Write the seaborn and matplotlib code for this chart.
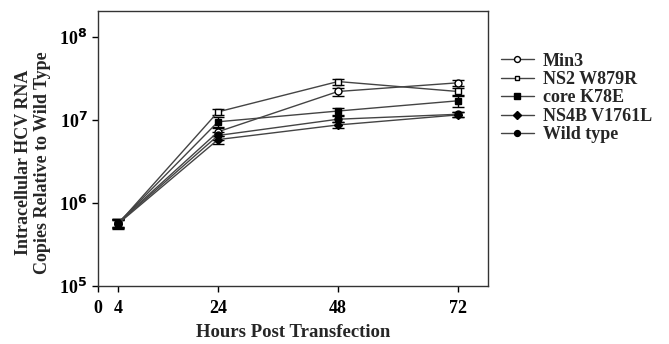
import matplotlib
matplotlib.use("Agg")
import matplotlib.pyplot as plt
import seaborn as sns
import pandas as pd
import numpy as np

hours = [4, 24, 48, 72]
series = ["Min3", "NS2 W879R", "core K78E", "NS4B V1761L", "Wild type"]
min3 = [5.8e5, 7.2e6, 2.2e7, 2.8e7]
ns2 = [5.6e5, 1.25e7, 2.9e7, 2.2e7]
core = [5.7e5, 9.5e6, 1.28e7, 1.7e7]
ns4b = [5.6e5, 5.8e6, 8.7e6, 1.15e7]
wild = [5.7e5, 6.5e6, 1.02e7, 1.17e7]
min3_err = [7e4, 8e5, 2.5e6, 2.5e6]
ns2_err = [6e4, 1.0e6, 2.5e6, 2.0e6]
core_err = [6e4, 1.2e6, 1.2e6, 2.5e6]
ns4b_err = [8e4, 6e5, 8e5, 8e5]
wild_err = [7e4, 7e5, 8e5, 8e5]

vals = [min3, ns2, core, ns4b, wild]
errs = [min3_err, ns2_err, core_err, ns4b_err, wild_err]
markers = {"Min3": "o", "NS2 W879R": "s", "core K78E": "s", "NS4B V1761L": "D", "Wild type": "o"}
faces = {"Min3": "white", "NS2 W879R": "white", "core K78E": "black", "NS4B V1761L": "black", "Wild type": "black"}
msize = {"Min3": 5, "NS2 W879R": 4.2, "core K78E": 4.5, "NS4B V1761L": 4.5, "Wild type": 5}

df = pd.DataFrame({
    "hours": np.tile(hours, len(series)),
    "value": np.concatenate(vals),
    "err": np.concatenate(errs),
    "series": np.repeat(series, len(hours)),
})

sns.set_style("ticks")
plt.rcParams["font.family"] = ["Liberation Serif", "DejaVu Serif"]
plt.rcParams["font.weight"] = "bold"

fig = plt.figure(figsize=(6.69, 3.44), dpi=100)
ax = fig.add_axes([0.1465, 0.1686, 0.5829, 0.7994])

for s in series:
    d = df[df["series"] == s]
    ax.errorbar(d["hours"], d["value"], yerr=d["err"], fmt="none", ecolor="black",
                elinewidth=1, capsize=4, capthick=1, zorder=2)
    sns.lineplot(data=d, x="hours", y="value", ax=ax, color="#444444", lw=1.0,
                 marker=markers[s], markersize=msize[s], markerfacecolor=faces[s],
                 markeredgecolor="black", markeredgewidth=1, label=s, zorder=3)

ax.set_yscale("log")
ax.set_ylim(1e5, 2.05e8)
ax.set_xlim(0, 78)
ax.set_xticks([0, 4, 24, 48, 72])
ax.set_xticklabels(["0", "4", "24", "48", "72"])
ax.set_yticks([1e5, 1e6, 1e7, 1e8])
ax.set_yticklabels([r"10$^{5}$", r"10$^{6}$", r"10$^{7}$", r"10$^{8}$"])
ax.yaxis.set_minor_locator(matplotlib.ticker.NullLocator())
ax.tick_params(axis="both", labelsize=13, direction="out", length=4, width=1, colors="black")
ax.tick_params(axis="x", pad=6)
for sp in ax.spines.values():
    sp.set_visible(True)
    sp.set_linewidth(1)
    sp.set_color("#333333")

for lab in ax.get_yticklabels():
    lab.set_fontweight("bold")

ax.set_xlabel("Hours Post Transfection", fontsize=13.5, fontweight="bold", labelpad=5)
ax.set_ylabel("Intracellular HCV RNA\nCopies Relative to Wild Type", fontsize=13,
              fontweight="bold", labelpad=6)
ax.yaxis.set_label_coords(-0.12, 0.45)

leg = ax.legend(loc="upper left", bbox_to_anchor=(1.015, 0.875), frameon=False,
                prop={"size": 13, "weight": "bold"}, handlelength=1.8, labelspacing=0.08,
                handletextpad=0.5, borderaxespad=0, markerscale=0.85)

fig.savefig("out.png", dpi=100)
